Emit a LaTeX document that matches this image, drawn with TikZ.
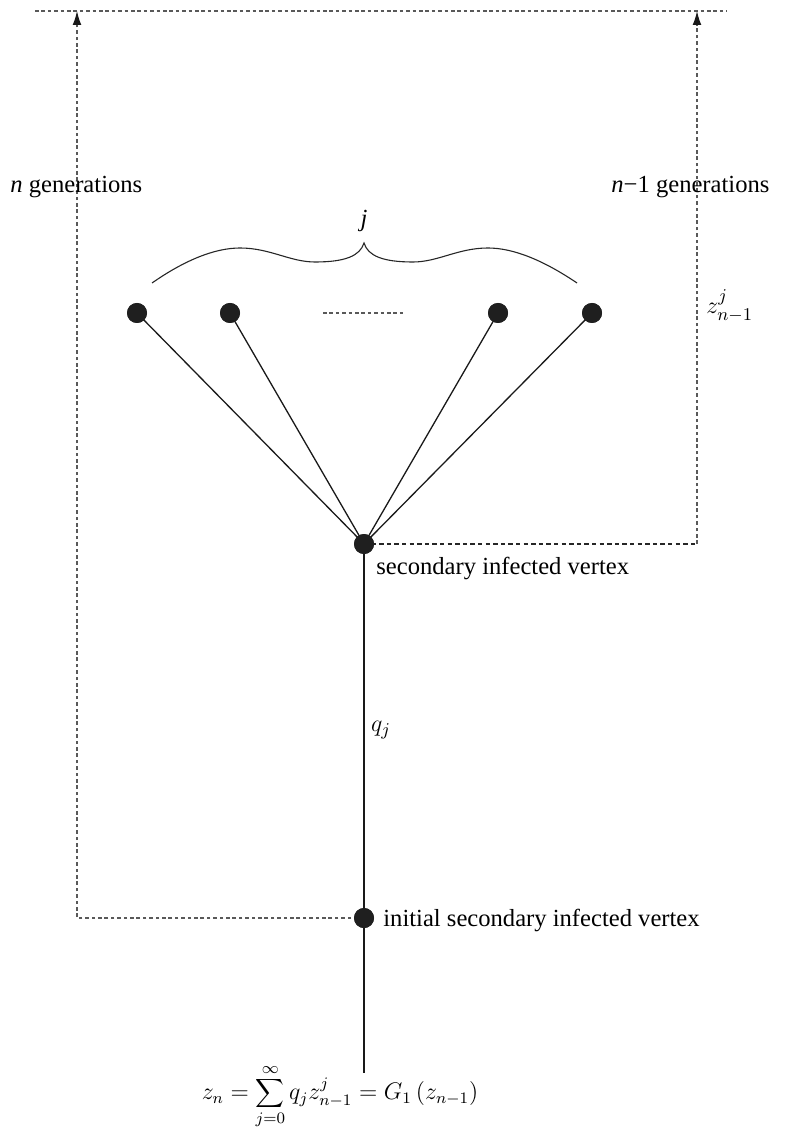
\documentclass[tikz,border=0pt]{standalone}
\usepackage{fontspec}
\setmainfont{Liberation Serif}
\usetikzlibrary{arrows.meta}
\begin{document}
\begin{tikzpicture}[x=0.5pt,y=-0.5pt,
  vertex/.style={circle,fill=black!88,inner sep=0pt,minimum size=10pt},
  edge/.style={draw=black!90,line width=0.65pt},
  guide/.style={draw=black!65,line width=0.6pt,dash pattern=on 1.8pt off 1.4pt},
  guidedark/.style={draw=black!85,line width=0.6pt,dash pattern=on 2.2pt off 1.6pt},
  tip/.style={-{Latex[length=7pt,width=4.4pt,color=black!90]}},
  lbl/.style={inner sep=0pt,font=\fontsize{12.3}{14}\selectfont}]
\useasboundingbox (0,0) rectangle (785,1127);

% vertices
\node[vertex] (s)  at (364,544) {};
\node[vertex] (i)  at (364,918) {};
\node[vertex] (t1) at (137,313) {};
\node[vertex] (t2) at (230,313) {};
\node[vertex] (t3) at (498,313) {};
\node[vertex] (t4) at (592,313) {};

% guide coordinates
\coordinate (bot) at (364,1073);
\coordinate (lc)  at (77,918);
\coordinate (lt)  at (77,11);
\coordinate (rc)  at (697,544);
\coordinate (rt)  at (697,11);
\coordinate (ta)  at (35,11);
\coordinate (tb)  at (727,11);
\coordinate (da)  at (323,313);
\coordinate (db)  at (403,313);

% edges
\draw[edge] (s.center) -- (i.center) -- (bot);
\foreach \t in {t1,t2,t3,t4} \draw[edge] (s.center) -- (\t.center);

% dashed guides
\draw[guide] (ta) -- (tb);
\draw[guide,tip] (i.center) -- (lc) -- (lt);
\draw[guidedark] (s.center) -- (rc);
\draw[guide,tip] (rc) -- (rt);
\draw[guide] (da) -- (db);

% redraw vertices on top
\foreach \v in {s,i,t1,t2,t3,t4} \fill[black!88] (\v) circle (5pt);

% brace over the children
\draw[black!85,line width=0.55pt]
  (152,283) .. controls (185,260) and (215,248) .. (240,248)
  .. controls (270,248) and (290,262) .. (315,262)
  .. controls (345,262) and (360,256) .. (364,243)
  .. controls (368,256) and (383,262) .. (413,262)
  .. controls (438,262) and (458,248) .. (488,248)
  .. controls (513,248) and (543,260) .. (577,283);

% labels
\node[lbl] (lj) at (364,221) {\textit{j}};
\node[lbl,anchor=base west] (ln) at (10,193) {\textit{n} generations};
\node[lbl,anchor=base west] (ln1) at (611,193) {\textit{n}−1 generations};
\node[lbl,anchor=west] (lz) at (706,306) {$z_{n-1}^{j}$};
\node[lbl,anchor=base west] (ls) at (376,574) {secondary infected vertex};
\node[lbl,anchor=base west] (li) at (383,926) {initial secondary infected vertex};
\node[lbl] (lq) at (381,730) {$q_j$};
\node[lbl,font=\fontsize{11.5}{13}\selectfont] (lf) at (340,1097) {$\displaystyle z_n=\sum_{j=0}^{\infty} q_j z_{n-1}^{j}=G_1\,(z_{n-1})$};
\end{tikzpicture}
\end{document}
